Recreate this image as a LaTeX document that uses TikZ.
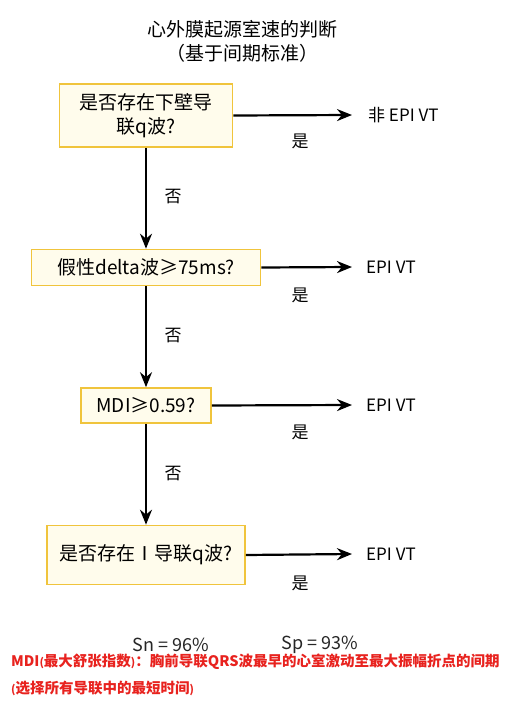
\documentclass[tikz,border=0pt]{standalone}
\usepackage{fontspec}
\setmainfont{Noto Sans CJK SC}
\usetikzlibrary{arrows.meta}
\definecolor{boxline}{HTML}{F0C43C}
\definecolor{boxfill}{HTML}{FFFCEC}
\definecolor{notered}{HTML}{E8221E}
\tikzstyle{every node}=[inner sep=0pt]
\tikzstyle{question}=[draw=boxline,fill=boxfill,line width=1.6pt,align=center,font=\fontsize{19}{24}\selectfont]
\tikzstyle{result}=[anchor=west,font=\fontsize{17}{20}\selectfont]
\tikzstyle{yeslabel}=[font=\fontsize{17}{20}\selectfont]
\tikzstyle{note}=[anchor=west,text=notered,font=\bfseries\fontsize{14.5}{18}\selectfont]
\tikzstyle{flow}=[line width=2.2pt,-{Stealth[length=15pt,width=12pt]}]
\newcommand{\sparen}[1]{{\fontsize{11}{12}\selectfont#1}}

\begin{document}
\begin{tikzpicture}[x=1pt,y=-1pt]
    \useasboundingbox[fill=white] (0,0) rectangle (504,704);
    % title
    \node[font=\fontsize{19}{24}\selectfont,align=center] (title) at (242,41)
        {心外膜起源室速的判断\\（基于间期标准）};
    % questions
    \node[question,minimum width=173pt,minimum height=63pt] (q1) at (146,115.5)
        {是否存在下壁导\\联q波?};
    \node[question,minimum width=229pt,minimum height=36pt] (q2) at (146,267.5) {假性delta波≥75ms?};
    \node[question,minimum width=130pt,minimum height=35pt] (q3) at (146,405.5) {MDI≥0.59?};
    \node[question,minimum width=198pt,minimum height=59pt] (q4) at (146,555) {是否存在Ⅰ导联q波?};
    % results
    \node[result] (r1) at (368,115) {非 EPI VT};
    \node[result] (r2) at (366,267) {EPI VT};
    \node[result] (r3) at (366,405) {EPI VT};
    \node[result] (r4) at (366,554) {EPI VT};
    \coordinate (e1) at (352,115);
    \coordinate (e2) at (352,267);
    \coordinate (e3) at (352,405);
    \coordinate (e4) at (352,554);
    % yes arrows
    \draw[flow] (q1.east) -- (e1);
    \draw[flow] (q2.east) -- (e2);
    \draw[flow] (q3.east) -- (e3);
    \draw[flow] (q4.east) -- (e4);
    \node[yeslabel] (y1) at (300,141) {是};
    \node[yeslabel] (y2) at (300,295) {是};
    \node[yeslabel] (y3) at (300,432) {是};
    \node[yeslabel] (y4) at (300,583) {是};
    % no arrows
    \draw[flow] (q1.south) -- (q2.north);
    \draw[flow] (q2.south) -- (q3.north);
    \draw[flow] (q3.south) -- (q4.north);
    \node[yeslabel] (n1) at (173,197) {否};
    \node[yeslabel] (n2) at (173,336) {否};
    \node[yeslabel] (n3) at (173,474) {否};
    % statistics
    \node[font=\fontsize{18}{20}\selectfont,text=black!85] (sn) at (171,645) {Sn = 96\%};
    \node[font=\fontsize{18}{20}\selectfont,text=black!85] (sp) at (320,645) {Sp = 93\%};
    % note
    \node[note] (note1) at (11,662)
        {MDI\sparen{(}最大舒张指数\sparen{)}：胸前导联QRS波最早的心室激动至最大振幅折点的间期};
    \node[note] (note2) at (11,688)
        {\sparen{(}选择所有导联中的最短时间\sparen{)}};
\end{tikzpicture}
\end{document}
